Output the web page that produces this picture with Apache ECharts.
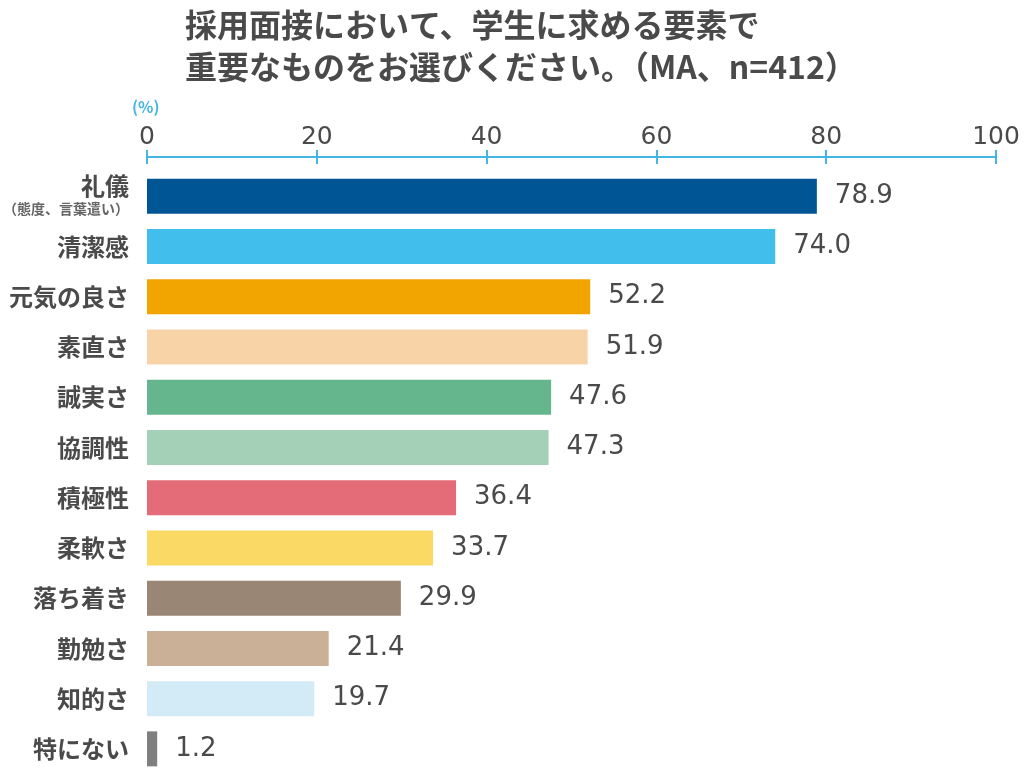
<!DOCTYPE html>
<html><head><meta charset="utf-8">
<script src="https://cdn.jsdelivr.net/npm/echarts@6/dist/echarts.min.js"></script>
<style>html,body{margin:0;padding:0;background:#fff}#c{width:1024px;height:774px}</style>
</head><body><div id="c"></div>
<script>
const categories = ['礼儀','清潔感','元気の良さ','素直さ','誠実さ','協調性','積極性','柔軟さ','落ち着き','勤勉さ','知的さ','特にない'];
const values = [78.9,74.0,52.2,51.9,47.6,47.3,36.4,33.7,29.9,21.4,19.7,1.2];
const colors = ['#005594','#41BEEC','#F2A500','#F7D3A7','#66B68D','#A3D0B6','#E46C78','#FADA64','#998675','#C9B097','#D2EBF7','#7F7F7F'];
const tickLabels = [0,20,40,60,80,100];
const font = '"Noto Sans CJK JP","Noto Sans",sans-serif';
const numFont = '"DejaVu Sans",sans-serif';
const textColor = '#4a4a4a';

const chart = echarts.init(document.getElementById('c'));
chart.setOption({
  animation:false,
  title:{text:'採用面接において、学生に求める要素で\n重要なものをお選びください。（MA、n=412）',left:180,top:-1,
    textStyle:{fontFamily:font,fontSize:32,fontWeight:'bold',color:textColor,lineHeight:42}},
  graphic:[{type:'text',left:132,top:99,style:{text:'(%)',fill:'#45B5E3',font:'bold 16px '+font}}],
  grid:{left:146,right:28,top:171,height:606},
  xAxis:[{type:'value',position:'top',min:0,max:100,interval:20,offset:14,
    axisLine:{show:true,lineStyle:{color:'#45B5E3',width:2}},
    axisTick:{show:true,inside:false,length:7,lineStyle:{color:'#45B5E3',width:2}},
    axisLabel:{margin:7,fontFamily:numFont,fontSize:25,color:textColor,formatter:v=>tickLabels.includes(v)?String(v):''},
    splitLine:{show:false}},
   {type:'value',position:'top',min:0,max:100,interval:20,offset:14,
    axisLine:{show:false},
    axisTick:{show:true,inside:true,length:7,lineStyle:{color:'#45B5E3',width:2}},
    axisLabel:{show:false},splitLine:{show:false}}],
  yAxis:{type:'category',data:categories,inverse:true,
    axisLine:{show:false},axisTick:{show:false},
    axisLabel:{margin:18,fontFamily:font,fontSize:24,fontWeight:'bold',color:textColor,
      formatter:v=>v==='礼儀'?'{a|礼儀}\n{b|（態度、言葉遣い）}':v,
      rich:{a:{fontFamily:font,fontSize:24,fontWeight:'bold',color:textColor,lineHeight:26,align:'right'},
            b:{fontFamily:font,fontSize:14,color:'#666',lineHeight:20,align:'right'}}}},
  series:[{type:'bar',data:values.map((v,i)=>({value:v,itemStyle:{color:colors[i]}})),
    barWidth:35,
    label:{show:true,position:'right',distance:18,fontFamily:numFont,fontSize:26,color:textColor,formatter:p=>p.value.toFixed(1)}}]
});
</script></body></html>
